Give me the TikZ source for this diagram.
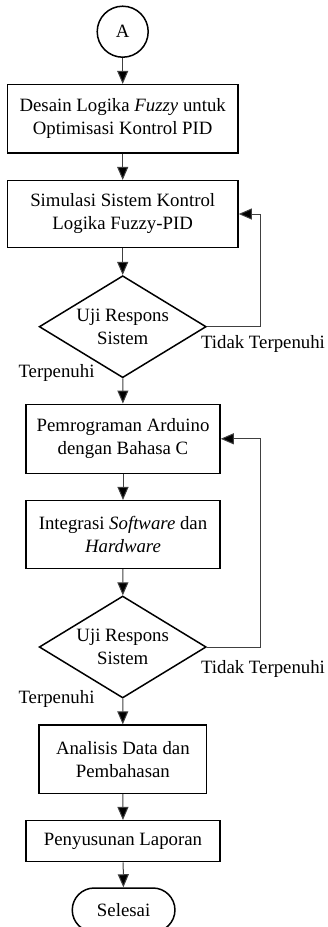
\documentclass[tikz,border=0pt]{standalone}
\usepackage{fontspec}
\setmainfont{Liberation Serif}
\usetikzlibrary{shapes.geometric,shapes.misc,arrows.meta}
\begin{document}
\begin{tikzpicture}[x=1pt,y=-1pt,
  font=\fontsize{18.8}{23}\selectfont,
  boxstyle/.style={draw=black,line width=1.5pt,rectangle,align=center,inner sep=0pt},
  decstyle/.style={draw=black,line width=1.5pt,diamond,aspect=1.64,minimum width=167pt,minimum height=102pt,inner sep=0pt,align=center},
  arr/.style={draw=black!75,line width=1pt,-{Triangle[length=13pt,width=11pt,fill=black]}},
  lbl/.style={inner sep=0pt}]
\useasboundingbox (0,0) rectangle (328,927);
\node[draw=black,line width=1.5pt,circle,minimum size=51pt,inner sep=0pt] (a) at (122.7,31.7) {A};
\node[boxstyle,minimum width=230.7pt,minimum height=68.3pt] (b1) at (122.7,118.8) {Desain Logika \textit{Fuzzy} untuk\\Optimisasi Kontrol PID};
\node[boxstyle,minimum width=230.7pt,minimum height=66.6pt] (b2) at (122.7,214) {Simulasi Sistem Kontrol\\Logika Fuzzy-PID};
\node[decstyle] (d1) at (122.7,326.7) {Uji Respons\\Sistem};
\node[boxstyle,minimum width=194pt,minimum height=69pt] (b3) at (123,438.8) {Pemrograman Arduino\\dengan Bahasa C};
\node[boxstyle,minimum width=194pt,minimum height=67.6pt] (b4) at (123,534.5) {Integrasi \textit{Software} dan\\\textit{Hardware}};
\node[decstyle] (d2) at (122.7,647) {Uji Respons\\Sistem};
\node[boxstyle,minimum width=167.7pt,minimum height=68.3pt] (b5) at (122.85,759.2) {Analisis Data dan\\Pembahasan};
\node[boxstyle,minimum width=194pt,minimum height=41pt] (b6) at (123,841.2) {Penyusunan Laporan};
\node[draw=black,line width=1.5pt,rounded rectangle,minimum width=102.7pt,minimum height=44pt,inner sep=0pt] (e) at (123.6,910) {Selesai};
\node[lbl] (t1) at (263,344) {Tidak Terpenuhi};
\node[lbl] (p1) at (56.5,373) {Terpenuhi};
\node[lbl] (t2) at (263,669.3) {Tidak Terpenuhi};
\node[lbl] (p2) at (56.5,699.3) {Terpenuhi};
\draw[arr] (a) -- (b1);
\draw[arr] (b1) -- (b2);
\draw[arr] (b2) -- (d1);
\draw[arr] (d1) -- (b3);
\draw[arr] (b3) -- (b4);
\draw[arr] (b4) -- (d2);
\draw[arr] (d2) -- (b5);
\draw[arr] (b5) -- (b6);
\draw[arr] (b6) -- (e);
\draw[arr] (d1.east) -- ++(53.8,0) |- (b2.east);
\draw[arr] (d2.east) -- ++(53.8,0) |- (b3.east);
\end{tikzpicture}
\end{document}
